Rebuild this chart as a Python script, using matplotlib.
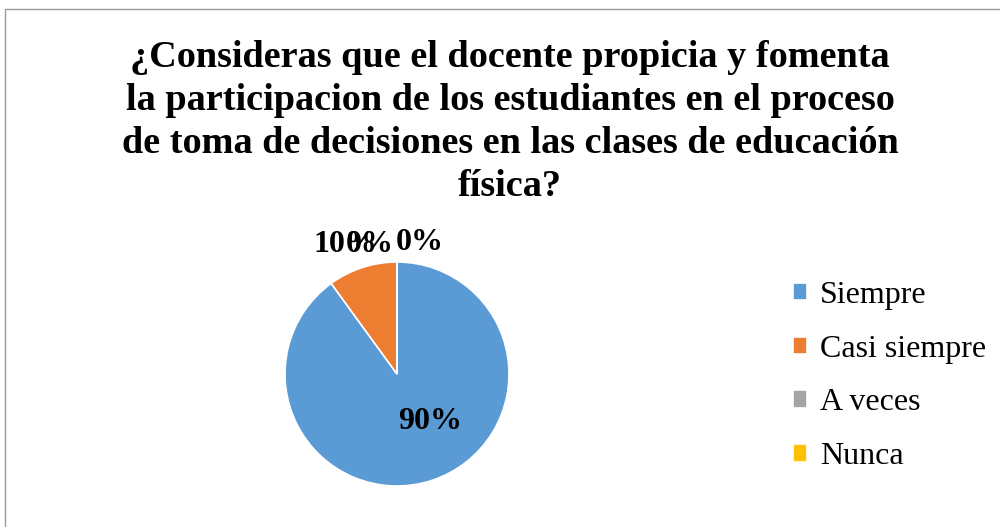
import matplotlib
matplotlib.use("Agg")
import matplotlib.pyplot as plt
from matplotlib.patches import Rectangle

title = ("¿Consideras que el docente propicia y fomenta\n"
         "la participacion de los estudiantes en el proceso\n"
         "de toma de decisiones en las clases de educación\n"
         "física?")
categories = ["Siempre", "Casi siempre", "A veces", "Nunca"]
values = [90, 10, 0, 0]
pct_labels = ["90%", "10%", "0%", "0%"]
colors = ["#5B9BD5", "#ED7D31", "#A5A5A5", "#FFC000"]
# label positions in pie-radius units (Excel placement)
label_pos = [(0.30, -0.42), (-0.46, 1.16), (-0.24, 1.16), (0.20, 1.17)]

plt.rcParams['font.family'] = ['Liberation Serif', 'DejaVu Serif']

fig = plt.figure(figsize=(10, 5.27), dpi=100)
W, H = 1000, 527
cx, cy, r = 397, 374, 112
ax = fig.add_axes([(cx - r) / W, (H - cy - r) / H, 2 * r / W, 2 * r / H])
wedges, _ = ax.pie(values, colors=colors, startangle=90, counterclock=False,
                   radius=1, wedgeprops=dict(edgecolor='white', linewidth=1.2))
ax.set_xlim(-1, 1)
ax.set_ylim(-1, 1)
ax.set_aspect('equal')
ax.axis('off')

for lab, (x, y) in zip(pct_labels, label_pos):
    ax.text(x, y, lab, ha='center', va='center', fontsize=23,
            fontweight='bold', color='black', clip_on=False)

fig.text(0.51, 1 - 122 / H, title, ha='center', va='center', fontsize=27.5,
         fontweight='bold', linespacing=1.3)

leg = fig.legend(wedges, categories, loc='center left',
                 bbox_to_anchor=(0.764, 1 - 376 / H), frameon=False,
                 fontsize=23, handlelength=0.45, handleheight=0.45,
                 handletextpad=0.4, labelspacing=0.78)

fig.patches.append(Rectangle((0.005, -0.2), 1.2, (H - 9) / H + 0.2,
                             transform=fig.transFigure, fill=False,
                             edgecolor='#9A9A9A', linewidth=1.0))

fig.savefig("out.png", dpi=100)
